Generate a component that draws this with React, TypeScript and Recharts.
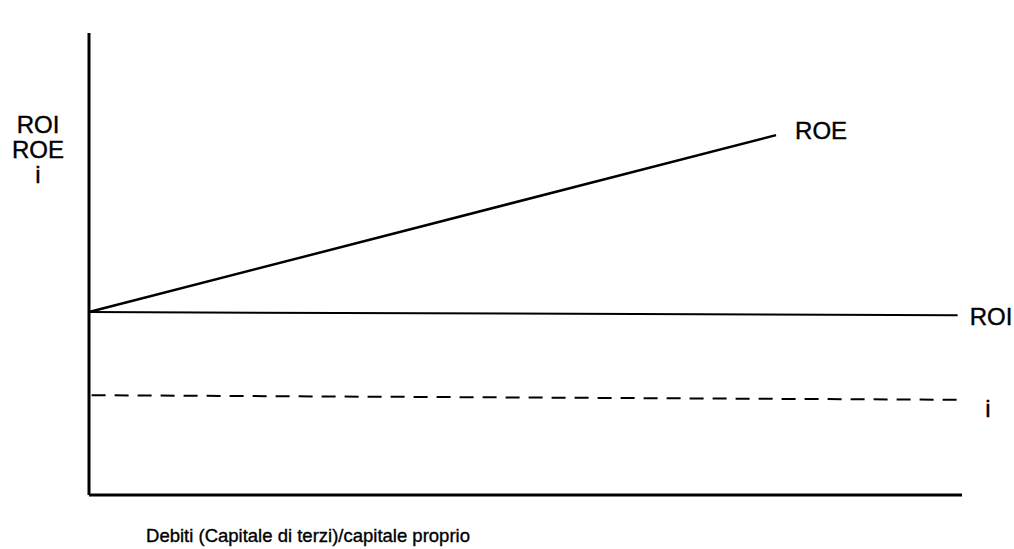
import React from 'react';
import { LineChart, Line, XAxis, YAxis, Label } from 'recharts';

// leverage (debt / equity) on x, rates on y, both on a 0-100 scale
const roePoints = [
  { x: 0, y: 39.6 },
  { x: 78.7, y: 77.9 },
];
const roiPoints = [
  { x: 0, y: 39.6 },
  { x: 99.5, y: 38.9 },
];
const iPoints = [
  { x: 0.3, y: 21.6 },
  { x: 99.8, y: 20.6 },
];
const yLabelLines = ['ROI', 'ROE', 'i'];
const xLabelText = 'Debiti (Capitale di terzi)/capitale proprio';

const FONT = '"Liberation Sans", Arial, Helvetica, sans-serif';

const endLabel = (text: string, dx: number, dy: number, count: number) => (props: any) => {
  const { x, y, index } = props;
  if (index !== count - 1) return null;
  return (
    <text
      x={x + dx}
      y={y + dy}
      fontSize={24}
      fontFamily={FONT}
      fill="#000"
      stroke="#000"
      strokeWidth={0.4}
    >
      {text}
    </text>
  );
};

const YLabel = (props: any) => {
  const { viewBox } = props;
  const cx = viewBox.x + viewBox.width - 51;
  const top = viewBox.y;
  return (
    <text
      textAnchor="middle"
      fontSize={24}
      fontFamily={FONT}
      fill="#000"
      stroke="#000"
      strokeWidth={0.4}
    >
      {yLabelLines.map((t, i) => (
        <tspan key={t} x={cx} y={top + 100 + i * 25}>
          {t}
        </tspan>
      ))}
    </text>
  );
};

const XLabel = (props: any) => {
  const { viewBox } = props;
  return (
    <text
      x={viewBox.x + 219}
      y={viewBox.y + 47}
      textAnchor="middle"
      fontSize={18.5}
      fontFamily={FONT}
      fill="#000"
      stroke="#000"
      strokeWidth={0.35}
    >
      {xLabelText}
    </text>
  );
};

export default function App() {
  return (
    <div style={{ position: 'fixed', left: 0, top: 0, width: 1014, height: 549, background: '#fff' }}>
      <LineChart width={1014} height={549} margin={{ top: 33, right: 52, bottom: 24, left: 59 }}>
        <XAxis
          type="number"
          dataKey="x"
          domain={[0, 100]}
          height={30}
          tick={false}
          tickLine={false}
          axisLine={{ stroke: '#000', strokeWidth: 3 }}
        >
          <Label content={XLabel} />
        </XAxis>
        <YAxis
          type="number"
          dataKey="y"
          domain={[0, 100]}
          width={30}
          tick={false}
          tickLine={false}
          axisLine={{ stroke: '#000', strokeWidth: 3 }}
        >
          <Label content={YLabel} />
        </YAxis>
        <Line
          data={roePoints}
          dataKey="y"
          stroke="#000"
          strokeWidth={2.5}
          dot={false}
          isAnimationActive={false}
          label={endLabel('ROE', 19, 4, roePoints.length)}
        />
        <Line
          data={roiPoints}
          dataKey="y"
          stroke="#000"
          strokeWidth={2}
          dot={false}
          isAnimationActive={false}
          label={endLabel('ROI', 12, 10, roiPoints.length)}
        />
        <Line
          data={iPoints}
          dataKey="y"
          stroke="#000"
          strokeWidth={2}
          strokeDasharray="14 9"
          dot={false}
          isAnimationActive={false}
          label={endLabel('i', 25, 17, iPoints.length)}
        />
      </LineChart>
    </div>
  );
}
